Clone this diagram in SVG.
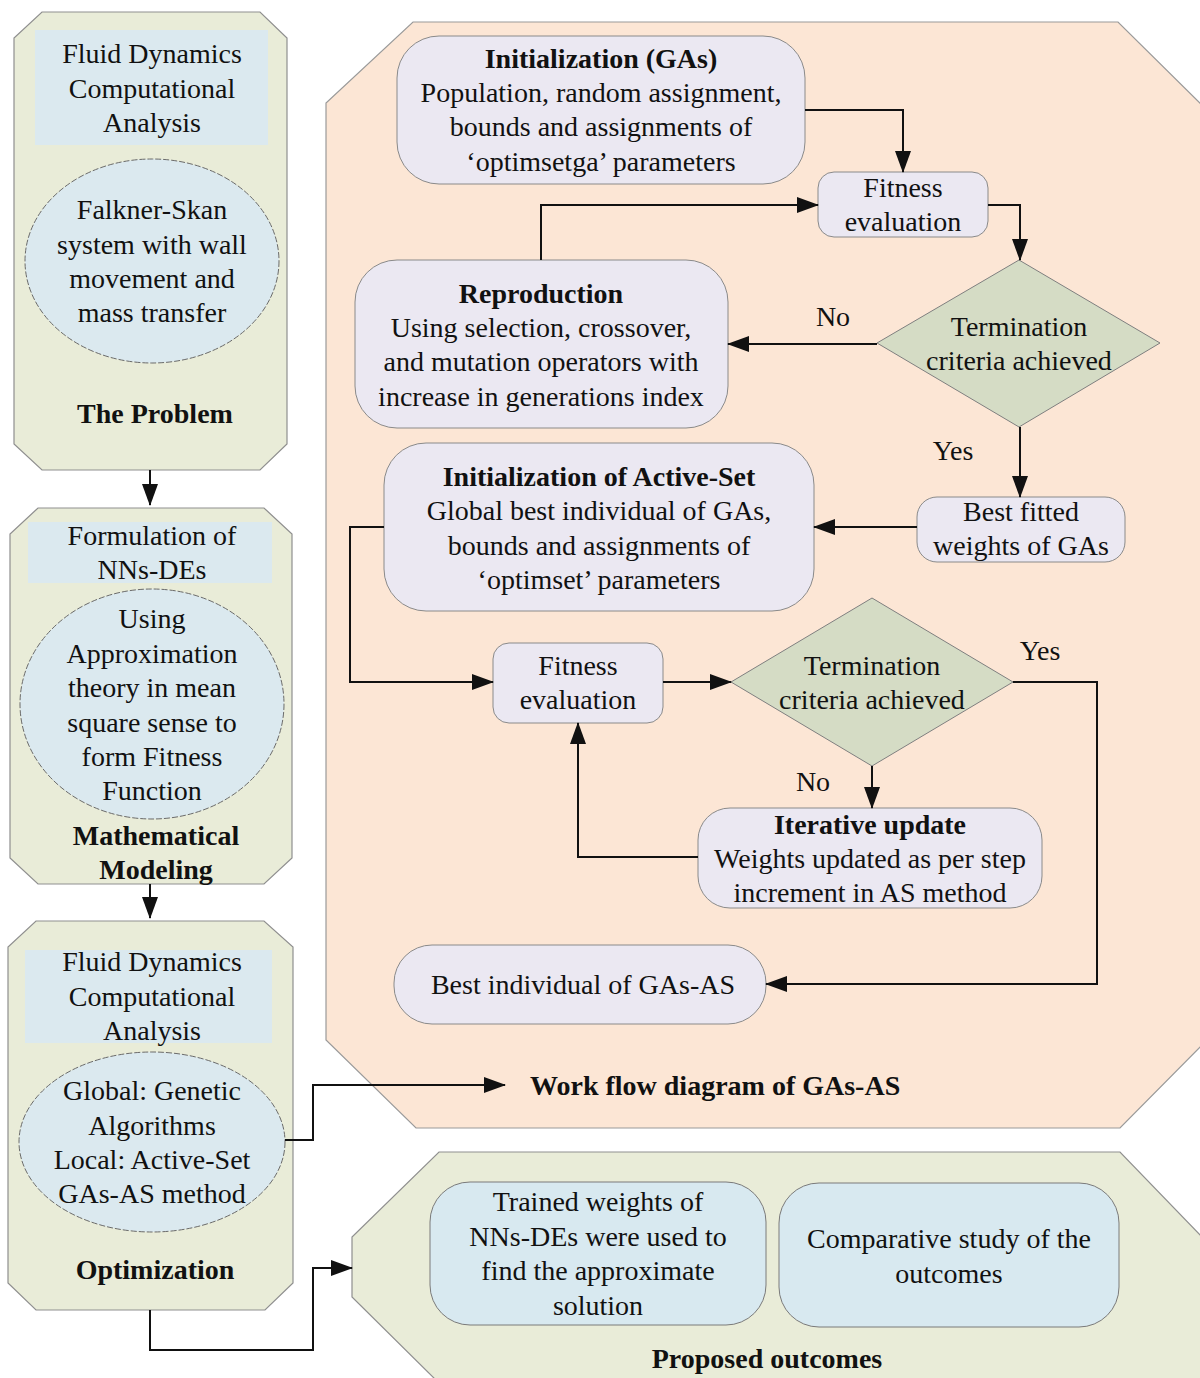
<svg xmlns="http://www.w3.org/2000/svg" width="1200" height="1378" viewBox="0 0 1200 1378">
<style>
text{font-family:"Liberation Serif","Times New Roman",serif;font-size:28px;fill:#111;text-anchor:middle}
.b{font-weight:bold}
.st{text-anchor:start}
.panelG{fill:#e9ecd8;stroke:#8f8f8f;stroke-width:1.2}
.panelO{fill:#fce6d5;stroke:#9a9a9a;stroke-width:1.2}
.blue{fill:#dbe9ef;stroke:none}
.ell{fill:#dbe9ef;stroke:#6a6a6a;stroke-width:1;stroke-dasharray:6 2}
.lav{fill:#ebe8f2;stroke:#8a8a8a;stroke-width:1}
.dia{fill:#d5dcc5;stroke:#7f7f7f;stroke-width:1}
.bbox{fill:#d8e9f0;stroke:#7a7a7a;stroke-width:1}
.con{fill:none;stroke:#111;stroke-width:2}
</style>
<defs>
<marker id="ah" markerUnits="userSpaceOnUse" markerWidth="22" markerHeight="16" refX="21" refY="8" orient="auto">
<path d="M0,0 L22,8 L0,16 z" fill="#111"/>
</marker>
</defs>

<rect width="1200" height="1378" fill="#ffffff"/>

<g id="workflow-panel">
<polygon class="panelO" points="413,22 1118,22 1205,108 1205,1042 1120,1128 416,1128 326,1040 326,103"/>
<text class="b st" x="530" y="1095">Work flow diagram of GAs-AS</text>
</g>

<g id="outcomes-panel">
<polygon class="panelG" points="439,1152 1120,1152 1205,1240 1205,1385 441,1385 352,1297 352,1237"/>
<text class="b" x="767" y="1368">Proposed outcomes</text>
</g>

<g id="problem-panel">
<polygon class="panelG" points="42,12 260,12 287,38 287,444 260,470 42,470 14,444 14,38"/>
<rect class="blue" x="35" y="30" width="233" height="115"/>
<text x="152" y="63">Fluid Dynamics</text>
<text x="152" y="98">Computational</text>
<text x="152" y="132">Analysis</text>
<text class="b" x="155" y="423">The Problem</text>
</g>
<g id="falkner-skan">
<ellipse class="ell" cx="152" cy="261" rx="127" ry="102"/>
<text x="152" y="219">Falkner-Skan</text>
<text x="152" y="254">system with wall</text>
<text x="152" y="288">movement and</text>
<text x="152" y="322">mass transfer</text>
</g>

<g id="modeling-panel">
<polygon class="panelG" points="38,508 264,508 292,534 292,858 264,884 38,884 10,858 10,534"/>
<rect class="blue" x="28" y="522" width="244" height="61"/>
<text x="152" y="545">Formulation of</text>
<text x="152" y="579">NNs-DEs</text>
<text class="b" x="156" y="845">Mathematical</text>
<text class="b" x="156" y="879">Modeling</text>
</g>
<g id="approximation">
<ellipse class="ell" cx="152" cy="704" rx="132" ry="115"/>
<text x="152" y="628">Using</text>
<text x="152" y="663">Approximation</text>
<text x="152" y="697">theory in mean</text>
<text x="152" y="732">square sense to</text>
<text x="152" y="766">form Fitness</text>
<text x="152" y="800">Function</text>
</g>

<g id="optimization-panel">
<polygon class="panelG" points="36,921 264,921 293,947 293,1283 265,1310 36,1310 8,1283 8,947"/>
<rect class="blue" x="25" y="950" width="247" height="93"/>
<text x="152" y="971">Fluid Dynamics</text>
<text x="152" y="1006">Computational</text>
<text x="152" y="1040">Analysis</text>
<text class="b" x="155" y="1279">Optimization</text>
</g>
<g id="ga-as-method">
<ellipse class="ell" cx="152" cy="1142" rx="133" ry="90"/>
<text x="152" y="1100">Global: Genetic</text>
<text x="152" y="1135">Algorithms</text>
<text x="152" y="1169">Local: Active-Set</text>
<text x="152" y="1203">GAs-AS method</text>
</g>

<g id="init-gas">
<rect class="lav" x="397" y="36" width="408" height="148" rx="42"/>
<text class="b" x="601" y="68">Initialization (GAs)</text>
<text x="601" y="102">Population, random assignment,</text>
<text x="601" y="136">bounds and assignments of</text>
<text x="601" y="171">‘optimsetga’ parameters</text>
</g>
<g id="fitness-1">
<rect class="lav" x="818" y="172" width="170" height="65" rx="16"/>
<text x="903" y="197">Fitness</text>
<text x="903" y="231">evaluation</text>
</g>
<g id="reproduction">
<rect class="lav" x="355" y="260" width="373" height="168" rx="42"/>
<text class="b" x="541" y="303">Reproduction</text>
<text x="541" y="337">Using selection, crossover,</text>
<text x="541" y="371">and mutation operators with</text>
<text x="541" y="406">increase in generations index</text>
</g>
<g id="termination-1">
<polygon class="dia" points="1019,260 1160,343 1019,427 877,343"/>
<text x="1019" y="336">Termination</text>
<text x="1019" y="370">criteria achieved</text>
</g>
<g id="best-fitted">
<rect class="lav" x="917" y="497" width="208" height="65" rx="20"/>
<text x="1021" y="521">Best fitted</text>
<text x="1021" y="555">weights of GAs</text>
</g>
<g id="init-as">
<rect class="lav" x="384" y="443" width="430" height="168" rx="42"/>
<text class="b" x="599" y="486">Initialization of Active-Set</text>
<text x="599" y="520">Global best individual of GAs,</text>
<text x="599" y="555">bounds and assignments of</text>
<text x="599" y="589">‘optimset’ parameters</text>
</g>
<g id="fitness-2">
<rect class="lav" x="493" y="643" width="170" height="80" rx="16"/>
<text x="578" y="675">Fitness</text>
<text x="578" y="709">evaluation</text>
</g>
<g id="termination-2">
<polygon class="dia" points="872,598 1013,682 872,766 731,682"/>
<text x="872" y="675">Termination</text>
<text x="872" y="709">criteria achieved</text>
</g>
<g id="iterative-update">
<rect class="lav" x="698" y="808" width="344" height="100" rx="32"/>
<text class="b" x="870" y="834">Iterative update</text>
<text x="870" y="868">Weights updated as per step</text>
<text x="870" y="902">increment in AS method</text>
</g>
<g id="best-individual">
<rect class="lav" x="394" y="945" width="372" height="79" rx="38"/>
<text x="583" y="994">Best individual of GAs-AS</text>
</g>

<g id="trained-weights">
<rect class="bbox" x="430" y="1182" width="336" height="143" rx="40"/>
<text x="598" y="1211">Trained weights of</text>
<text x="598" y="1246">NNs-DEs were used to</text>
<text x="598" y="1280">find the approximate</text>
<text x="598" y="1315">solution</text>
</g>
<g id="comparative-study">
<rect class="bbox" x="779" y="1183" width="340" height="144" rx="40"/>
<text x="949" y="1248">Comparative study of the</text>
<text x="949" y="1283">outcomes</text>
</g>

<g id="connectors">
<path class="con" marker-end="url(#ah)" d="M150,470 V505"/>
<path class="con" marker-end="url(#ah)" d="M150,884 V918"/>
<path class="con" marker-end="url(#ah)" d="M285,1140 H313 V1085 H505"/>
<path class="con" marker-end="url(#ah)" d="M150,1310 V1350 H313 V1268 H352"/>
<path class="con" marker-end="url(#ah)" d="M805,110 H903 V172"/>
<path class="con" marker-end="url(#ah)" d="M988,205 H1020 V260"/>
<path class="con" marker-end="url(#ah)" d="M877,344 H728"/>
<path class="con" marker-end="url(#ah)" d="M541,260 V205 H818"/>
<path class="con" marker-end="url(#ah)" d="M1020,427 V497"/>
<path class="con" marker-end="url(#ah)" d="M917,527 H814"/>
<path class="con" marker-end="url(#ah)" d="M384,527 H350 V682 H493"/>
<path class="con" marker-end="url(#ah)" d="M663,682 H731"/>
<path class="con" marker-end="url(#ah)" d="M872,766 V808"/>
<path class="con" marker-end="url(#ah)" d="M698,857 H578 V723"/>
<path class="con" marker-end="url(#ah)" d="M1013,682 H1097 V984 H766"/>
<text x="833" y="326">No</text>
<text x="953" y="460">Yes</text>
<text x="1040" y="660">Yes</text>
<text x="813" y="791">No</text>
</g>
</svg>
